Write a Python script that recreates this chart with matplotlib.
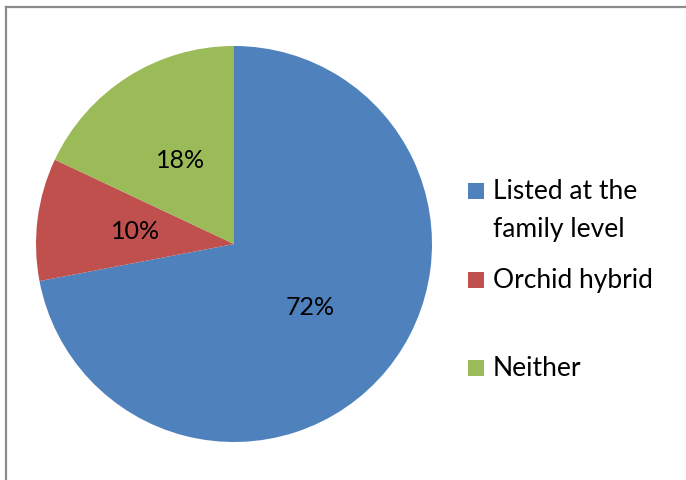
import matplotlib.pyplot as plt
from matplotlib.patches import Rectangle
from matplotlib.lines import Line2D

categories = ["Listed at the\nfamily level", "Orchid hybrid", "Neither"]
shares = [72, 10, 18]
colors = ["#4F81BD", "#C0504D", "#9BBB59"]

W, H = 686, 480
FONT = ["Lato", "DejaVu Sans"]

fig = plt.figure(figsize=(W / 100, H / 100), dpi=100)

# chart-area border (top and left edge visible, rest is cropped)
fig.add_artist(Line2D([6 / W, 1.0], [1 - 7 / H, 1 - 7 / H], color="#8c8c8c", lw=1.6,
                      transform=fig.transFigure))
fig.add_artist(Line2D([6 / W, 6 / W], [0.0, 1 - 7 / H], color="#8c8c8c", lw=1.6,
                      transform=fig.transFigure))

# pie centred at (234, 244) px with radius ~198 px
cx, cy, r = 234, 244, 198
ax = fig.add_axes([(cx - r) / W, (H - cy - r) / H, 2 * r / W, 2 * r / H])
wedges, _, autotexts = ax.pie(
    shares, colors=colors, startangle=90, counterclock=False,
    autopct="%d%%", pctdistance=0.5,
    wedgeprops=dict(linewidth=0),
    textprops=dict(fontsize=18, family=FONT, color="black"),
)
ax.set_xlim(-1, 1)
ax.set_ylim(-1, 1)
ax.set_aspect("equal")
ax.axis("off")

# legend drawn by hand to keep Excel's uneven spacing
legend_base = [199, 288, 376]   # baseline of each entry's first line, px from top
line_gap = 38
for label, color, y in zip(categories, colors, legend_base):
    fig.add_artist(Rectangle((468 / W, 1 - y / H), 16 / W, 16 / H,
                             transform=fig.transFigure, color=color, lw=0))
    for i, line in enumerate(label.split("\n")):
        fig.text(493 / W, 1 - (y + i * line_gap) / H, line, fontsize=19,
                 family=FONT, va="baseline", ha="left")

fig.savefig("out.png", dpi=100)
